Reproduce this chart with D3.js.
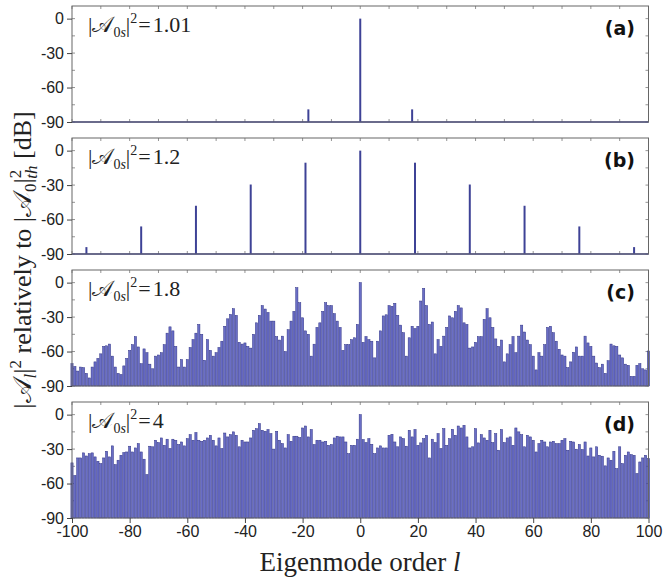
<!DOCTYPE html>
<html><head><meta charset="utf-8">
<script src="https://cdn.jsdelivr.net/npm/d3@7"></script>
<style>body{margin:0;background:#fff}svg{display:block}</style>
</head><body>
<script>
// ---- data ----
const panelLabels = ["(a)", "(b)", "(c)", "(d)"];
const ampValues = ["1.01", "1.2", "1.8", "4"];
const yTickValues = [0, -30, -60, -90];
const xTickValues = [-100, -80, -60, -40, -20, 0, 20, 40, 60, 80, 100];

// panel (a): isolated modes
const aModes = [-18, 0, 18];
const aDb = [-79, 0, -79];
// panel (b): isolated modes
const bModes = [-95, -76, -57, -38, -19, 0, 19, 38, 57, 76, 95];
const bDb = [-84, -66, -48, -29.5, -10.5, 0, -10.5, -29.5, -48, -66, -84];

// panels (c) and (d): every mode l = -100 ... 100
const modesAll = d3.range(-100, 101);
const cDb = [
 -70.6,-73,-77,-73.5,-74,-79,-83,-73.5,-69,-66,
 -62,-55.5,-55,-53.5,-64,-73.5,-79,-80,-72.5,-66,
 -59,-54,-47,-56,-70.6,-57.7,-61,-71,-75,-64,
 -63,-61,-54,-44,-38.5,-42,-55.5,-73.5,-67,-73.5,
 -67,-56.5,-49.6,-44,-36.4,-45,-67.6,-49.6,-59,-64,
 -61,-56.5,-51,-38,-31.5,-27.7,-22.7,-28.5,-52,-53.5,
 -52.5,-55.5,-57,-45,-35,-28.5,-20,-23,-26,-33.5,
 -33.5,-47,-50,-46.6,-60,-41,-33.5,-25,-4.4,-17.5,
 -30.6,-42,-45,-64,-53.6,-39,-35,-25,-17.5,-20,
 -20,-27,-33.5,-39,-59,-54,-54,-49.6,-48,-36.4,
 0,
 -52,-47,-49.6,-51,-65.5,-51,-42,-29,-28,-20,
 -20.6,-18,-28.5,-37,-43.6,-64,-48,-38,-40,-38,
 -16,-5,-20,-36.4,-34.3,-62,-49.6,-55.5,-46.6,-39,
 -29,-30.6,-25,-20,-22,-35,-36.4,-57,-56,-52,
 -47,-47,-32,-22.7,-30.6,-39,-49,-55.5,-50,-69,
 -62,-54,-47,-61,-46.6,-37,-43,-50,-54,-64,
 -76,-61,-64,-54,-39,-38,-43.6,-51,-58,-63,
 -64,-74,-69,-60.6,-56,-64,-64,-46.6,-52.5,-55.5,
 -64,-70,-74,-71,-79,-68,-53.5,-55,-55.5,-63,
 -65.5,-71,-72,-81.6,-81.6,-72,-70.5,-75,-76,-59.5
];
const dDb = [
 -42,-53,-37.7,-37.7,-33.3,-36,-34,-33.3,-36.8,-40.6,
 -42.6,-37.7,-31.9,-36.8,-27.2,-43.5,-39.7,-35.4,-33,-32.5,
 -27.5,-32.5,-29,-25.2,-32.5,-38.8,-52.2,-27.5,-28,-22.3,
 -24.3,-20.3,-26.7,-21.4,-29.5,-21.4,-22.3,-26,-23.8,-27.2,
 -20.9,-17.4,-22.3,-15.6,-22.3,-23.2,-22.3,-20.3,-18,-22.3,
 -27.2,-20.3,-29.5,-16,-19.4,-17.4,-15,-18,-28,-22.3,
 -23.8,-23.8,-20.3,-13.6,-12.2,-7.8,-13.6,-14.5,-13,-16.5,
 -30,-14.5,-22.3,-25.2,-29,-17.4,-23.2,-18.8,-18.8,-20,
 -11.6,-9.9,-19.4,-13,-26,-22.3,-22.3,-23.8,-23.2,-26.7,
 -26,-20.3,-18.8,-19.4,-19.4,-23.8,-34,-26.7,-26.7,-21.4,
 0,
 -21.7,-24.3,-20.9,-25.8,-34,-29,-27.2,-29,-29,-18,
 -17.1,-23.8,-28,-19.4,-20.9,-27.5,-13.6,-19.4,-13,-26.7,
 -24.6,-20.9,-18,-37.7,-21.4,-24.3,-16.5,-29.5,-12.2,-26.7,
 -20.9,-12.8,-18,-9.9,-11.6,-9.3,-19.4,-29,-28,-12.2,
 -24.6,-17.4,-20.3,-22.3,-13.6,-24.3,-16.5,-31,-13,-24.3,
 -20.3,-19.4,-26.7,-11.6,-15,-17.4,-28,-18,-19.4,-22.3,
 -32.5,-25.2,-22.3,-23.8,-28,-23.8,-23.2,-25.2,-25.2,-22.3,
 -20.9,-31,-23.2,-23.8,-30.1,-26,-30.4,-23.8,-36,-29,
 -36.8,-28,-35.4,-36.2,-44.6,-37.7,-39.7,-31.9,-47,-28,
 -42.6,-35.4,-32.5,-34.8,-35.4,-51.3,-41.2,-37.7,-35.4,-38.3
];

// ---- layout ----
const W = 664, H = 578;
const left = 72, right = 648.5;
const panelTops = [6, 138, 270, 402];
const panelH = 116;
const yDomain = [-90, 11];

const svg = d3.select("body").append("svg").attr("width", W).attr("height", H);
const x = d3.scaleLinear().domain([-100, 100]).range([left, right]);

const stemColor = "#3e4296";
const barFill = "#6a6ec6";
const barStroke = "#2f3285";
const frameColor = "#666";
const sans = "'Liberation Sans', Arial, sans-serif";
const serif = "'Liberation Serif', 'DejaVu Serif', serif";
const hyphenFmt = d => String(d);

const panels = [
  {modes: aModes, db: aDb, type: "stem"},
  {modes: bModes, db: bDb, type: "stem"},
  {modes: modesAll, db: cDb, type: "bar"},
  {modes: modesAll, db: dDb, type: "bar"}
];

panels.forEach((p, i) => {
  const top = panelTops[i];
  const y = d3.scaleLinear().domain(yDomain).range([top + panelH, top]);
  const g = svg.append("g");

  // minor ticks (inward) on all sides
  const minorY = d3.range(-90, 11, 15);
  const minorX = d3.range(-100, 101, 10);
  g.selectAll(".myl").data(minorY).join("line")
    .attr("x1", left).attr("x2", left + 3).attr("y1", d => y(d)).attr("y2", d => y(d))
    .attr("stroke", frameColor).attr("stroke-width", 0.7);
  g.selectAll(".myr").data(minorY).join("line")
    .attr("x1", right).attr("x2", right - 3).attr("y1", d => y(d)).attr("y2", d => y(d))
    .attr("stroke", frameColor).attr("stroke-width", 0.7);
  g.selectAll(".mxt").data(minorX).join("line")
    .attr("x1", d => x(d)).attr("x2", d => x(d)).attr("y1", top).attr("y2", top + 3)
    .attr("stroke", frameColor).attr("stroke-width", 0.7);
  g.selectAll(".mxb").data(minorX).join("line")
    .attr("x1", d => x(d)).attr("x2", d => x(d)).attr("y1", top + panelH).attr("y2", top + panelH - 3)
    .attr("stroke", frameColor).attr("stroke-width", 0.7);

  // data marks
  const data = p.modes.map((l, k) => ({l, v: p.db[k]}));
  if (p.type === "stem") {
    g.append("line").attr("x1", left).attr("x2", right)
      .attr("y1", y(-90)).attr("y2", y(-90))
      .attr("stroke", stemColor).attr("stroke-width", 1.6);
    g.selectAll(".stem").data(data).join("line")
      .attr("x1", d => x(d.l)).attr("x2", d => x(d.l))
      .attr("y1", y(-90)).attr("y2", d => y(d.v))
      .attr("stroke", stemColor).attr("stroke-width", 2);
  } else {
    const bw = 2.2;
    g.selectAll(".bar").data(data).join("rect")
      .attr("x", d => x(d.l) - bw / 2).attr("width", bw)
      .attr("y", d => y(d.v)).attr("height", d => y(-90) - y(d.v))
      .attr("fill", barFill).attr("stroke", barStroke).attr("stroke-width", 0.5);
  }

  // frame
  g.append("rect").attr("x", left).attr("y", top)
    .attr("width", right - left).attr("height", panelH)
    .attr("fill", "none").attr("stroke", frameColor).attr("stroke-width", 1);

  // left axis
  const ax = g.append("g").attr("transform", `translate(${left},0)`)
    .call(d3.axisLeft(y).tickValues(yTickValues).tickSize(5).tickPadding(3).tickFormat(hyphenFmt));
  ax.select(".domain").remove();
  ax.selectAll("line").attr("stroke", "#444");
  ax.selectAll("text").attr("font-family", sans).attr("font-size", 16).attr("fill", "#222");

  if (i === 3) {
    const bx = g.append("g").attr("transform", `translate(0,${top + panelH})`)
      .call(d3.axisBottom(x).tickValues(xTickValues).tickSize(5).tickPadding(3).tickFormat(hyphenFmt));
    bx.select(".domain").remove();
    bx.selectAll("line").attr("stroke", "#444");
    bx.selectAll("text").attr("font-family", sans).attr("font-size", 16).attr("fill", "#222");
  }

  // panel label
  g.append("text").attr("x", 635).attr("y", top + 29)
    .attr("text-anchor", "end").attr("font-family", "'DejaVu Sans', sans-serif").attr("font-weight", "bold")
    .attr("font-size", 19).attr("fill", "#111").text(panelLabels[i]);

  // amplitude annotation
  const t = g.append("text").attr("x", 88).attr("y", top + 26)
    .attr("font-family", serif).attr("font-size", 22).attr("fill", "#222");
  t.append("tspan").text("|");
  t.append("tspan").text("\u{1D49C}");
  t.append("tspan").attr("font-size", 14).attr("dy", 5).text("0");
  t.append("tspan").attr("font-size", 14).attr("font-style", "italic").text("s");
  t.append("tspan").attr("dy", -5).text("|");
  t.append("tspan").attr("font-size", 14).attr("dy", -9).text("2");
  t.append("tspan").attr("dy", 9).attr("dx", 1).text("=");
  t.append("tspan").attr("dx", 2).text(ampValues[i]);
});

// x-axis title
const xt = svg.append("text").attr("x", 360).attr("y", 571).attr("text-anchor", "middle")
  .attr("font-family", serif).attr("font-size", 27).attr("fill", "#222");
xt.append("tspan").text("Eigenmode order ");
xt.append("tspan").attr("font-style", "italic").text("l");

// y-axis title
const yt = svg.append("text").attr("transform", "translate(31,260) rotate(-90)")
  .attr("text-anchor", "middle").attr("font-family", serif).attr("font-size", 26).attr("fill", "#222");
yt.append("tspan").text("|\u{1D49C}");
yt.append("tspan").attr("font-size", 17).attr("font-style", "italic").attr("dy", 5).text("l");
yt.append("tspan").attr("dy", -5).text("|");
yt.append("tspan").attr("font-size", 17).attr("dy", -10).text("2");
yt.append("tspan").attr("dy", 10).text(" relatively to |\u{1D49C}");
yt.append("tspan").attr("font-size", 17).attr("dy", 5).text("0");
yt.append("tspan").attr("dy", -5).text("|");
yt.append("tspan").attr("font-size", 17).attr("dy", -10).text("2");
yt.append("tspan").attr("font-size", 17).attr("font-style", "italic").attr("dx", -9).attr("dy", 16).text("th");
yt.append("tspan").attr("dy", -6).text(" [dB]");
</script>
</body></html>
